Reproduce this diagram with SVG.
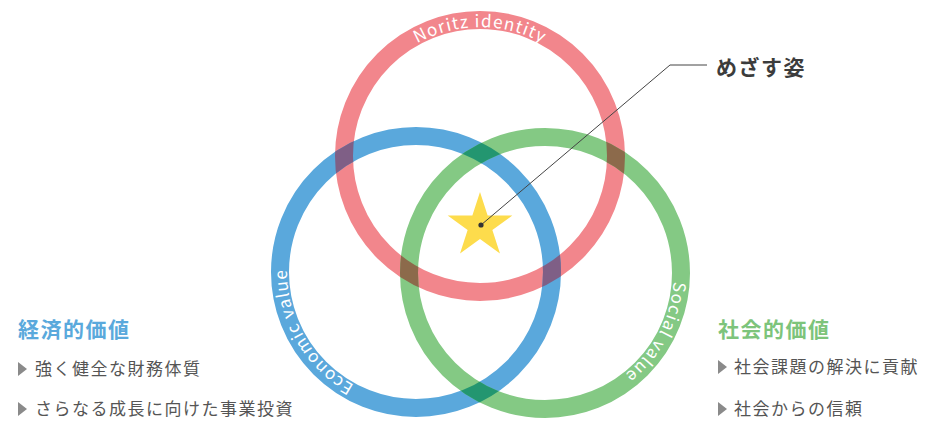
<svg xmlns="http://www.w3.org/2000/svg" width="928" height="421" viewBox="0 0 928 421">
<style>
.ring{fill:none;stroke-width:18}
.arc{font-family:"Noto Sans CJK JP","Noto Sans",sans-serif;font-size:17px;font-weight:normal;fill:#fff;letter-spacing:1.2px}
.jp{font-family:"Noto Sans CJK JP","Noto Sans",sans-serif}
.head{font-size:21px;font-weight:bold;letter-spacing:1.5px}
.item{font-size:17px;fill:#555;letter-spacing:1.5px}
.tri{fill:#8a8a8a}
</style>
<defs>
<path id="pRed" d="M351,156 A129,129 0 0 1 609,156"/>
<path id="pBlue" d="M480.5,383.72 A129,129 0 0 1 351.5,160.28"/>
<path id="pGreen" d="M605.57,159.1 A129,129 0 0 1 484.43,386.9"/>
<mask id="mRed" maskUnits="userSpaceOnUse" x="0" y="0" width="928" height="421">
<circle cx="480" cy="156" r="136" fill="none" stroke="#fff" stroke-width="18"/>
</mask>
<mask id="mBlue" maskUnits="userSpaceOnUse" x="0" y="0" width="928" height="421">
<circle cx="416" cy="272" r="136" fill="none" stroke="#fff" stroke-width="18"/>
</mask>
</defs>
<rect width="928" height="421" fill="#fff"/>
<g id="identity"><circle class="ring" cx="480" cy="156" r="136" stroke="#f2868c"/></g>
<g id="economic"><circle class="ring" cx="416" cy="272" r="136" stroke="#5aa8dc"/></g>
<g id="social"><circle class="ring" cx="545" cy="273" r="136" stroke="#84c984"/></g>
<g id="overlaps">
<circle class="ring" cx="416" cy="272" r="136" stroke="#7f5f86" mask="url(#mRed)"/>
<circle class="ring" cx="545" cy="273" r="136" stroke="#8c6a4b" mask="url(#mRed)"/>
<circle class="ring" cx="545" cy="273" r="136" stroke="#239670" mask="url(#mBlue)"/>
</g>
<g id="ring-labels">
<text class="arc"><textPath href="#pRed" startOffset="50%" text-anchor="middle">Noritz identity</textPath></text>
<text class="arc"><textPath href="#pBlue" startOffset="50%" text-anchor="middle">Economic value</textPath></text>
<text class="arc"><textPath href="#pGreen" startOffset="50%" text-anchor="middle">Social value</textPath></text>
</g>
<g id="star"><polygon fill="#fddc4c" points="480,192 487.64,215.48 512.34,215.49 492.36,230.02 499.98,253.51 480,239 460.02,253.51 467.64,230.02 447.66,215.49 472.36,215.48"/></g>
<g id="connectors">
<polyline points="481,225 670,65 707,65" fill="none" stroke="#444" stroke-width="1"/>
<circle cx="481" cy="225" r="2.6" fill="#333"/>
</g>
<g id="goal"><text class="jp head" x="716" y="75" fill="#3c3c3c">めざす姿</text></g>
<g id="economic-value">
<text class="jp head" x="18" y="337" fill="#5aa9dc">経済的価値</text>
<polygon class="tri" points="18,362 27,369 18,376"/>
<text class="jp item" x="35" y="375">強く健全な財務体質</text>
<polygon class="tri" points="18,402 27,409 18,416"/>
<text class="jp item" x="35" y="415">さらなる成長に向けた事業投資</text>
</g>
<g id="social-value">
<text class="jp head" x="718" y="337" fill="#7dc47b">社会的価値</text>
<polygon class="tri" points="718,360 727,367 718,374"/>
<text class="jp item" x="734" y="373">社会課題の解決に貢献</text>
<polygon class="tri" points="718,402 727,409 718,416"/>
<text class="jp item" x="734" y="415">社会からの信頼</text>
</g>
</svg>
